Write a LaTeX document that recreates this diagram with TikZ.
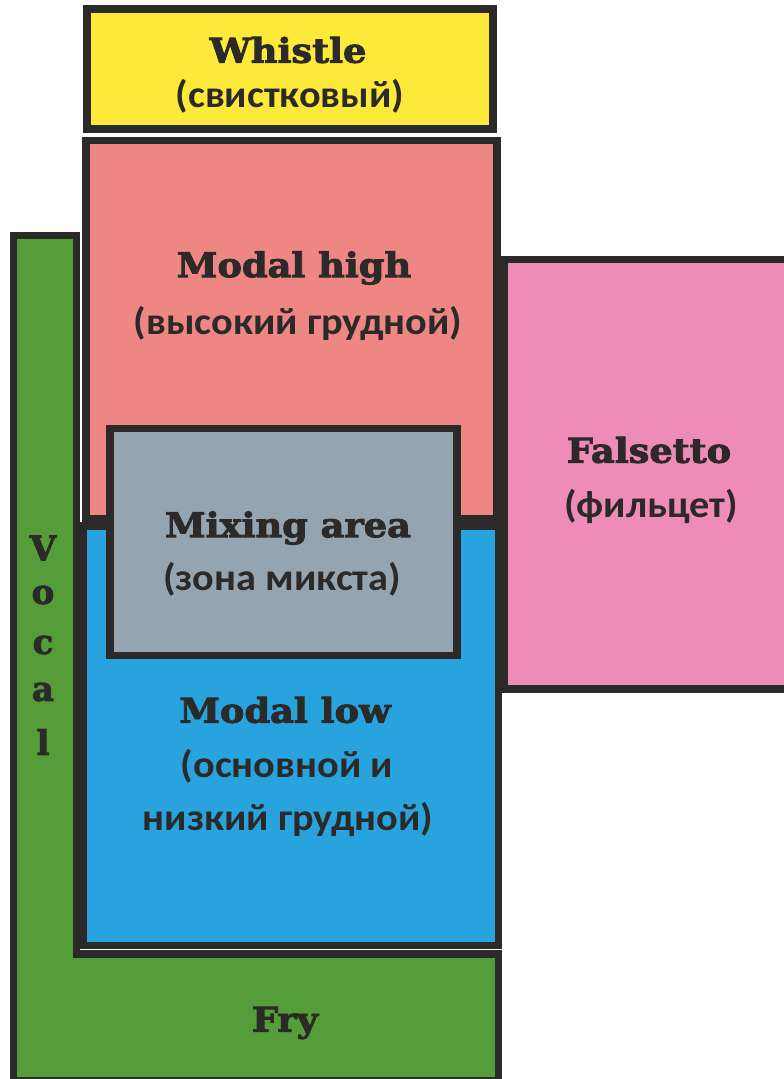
\documentclass[tikz,border=0pt]{standalone}
\usepackage{fontspec}
\newfontfamily\headfont{DejaVu Serif}[BoldFeatures={FakeBold=2.6}]
\newfontfamily\subfont{Carlito}
\definecolor{edge}{HTML}{2B2A29}
\definecolor{whistlecol}{HTML}{FCE93A}
\definecolor{highcol}{HTML}{EE8683}
\definecolor{mixcol}{HTML}{94A5B1}
\definecolor{lowcol}{HTML}{28A3DD}
\definecolor{falsecol}{HTML}{EE8BB6}
\definecolor{frycol}{HTML}{549D38}
\tikzset{
  zone/.style={draw=edge, line width=7.5pt, line join=miter},
  head/.style={font=\headfont\bfseries\fontsize{34}{38}\selectfont, text=edge, inner sep=0pt, xscale=1.08},
  sub/.style={font=\subfont\bfseries\fontsize{38}{42}\selectfont, text=edge, inner sep=0pt, xscale=1.06},
  letter/.style={font=\headfont\bfseries\fontsize{34}{38}\selectfont, text=edge, inner sep=0pt},
}
\begin{document}
\begin{tikzpicture}[x=1pt, y=-1pt]
  \useasboundingbox (0,0) rectangle (784,1079);
  % vocal / fry L-shaped band
  \path[zone, fill=frycol] (13.5,235.5) -- (76.5,235.5) -- (76.5,954) -- (498.5,954)
        -- (498.5,1081) -- (13.5,1081) -- cycle;
  % falsetto block running off the right edge
  \path[zone, fill=falsecol] (504,259.5) rectangle (800,689);
  % stacked chest-voice blocks
  \path[zone, fill=whistlecol] (87,9) rectangle (493,129);
  \path[zone, fill=highcol] (86,140.5) rectangle (497,519);
  \path[zone, fill=lowcol] (83,526) rectangle (498.5,945.5);
  \path[zone, fill=mixcol] (110,428.5) rectangle (457,655.5);

  % labels
  \node[head] (whistle) at (288,50) {Whistle};
  \node[sub]  (whistleru) at (290,96) {(свистковый)};
  \node[head] (high) at (294,268) {Modal high};
  \node[sub]  (highru) at (298,323) {(высокий грудной)};
  \node[head] (mix) at (288,528) {Mixing area};
  \node[sub]  (mixru) at (282,579) {(зона микста)};
  \node[head] (low) at (285,710) {Modal low};
  \node[sub]  (lowru1) at (287,766) {(основной и};
  \node[sub]  (lowru2) at (288,819) {низкий грудной)};
  \node[head] (fals) at (649,450) {Falsetto};
  \node[sub]  (falsru) at (651,506) {(фильцет)};
  \node[head] (fry) at (285,1023) {Fry};
  \node[letter] (v1) at (43,548) {V};
  \node[letter] (v2) at (43,595) {o};
  \node[letter] (v3) at (43,645) {c};
  \node[letter] (v4) at (43,692) {a};
  \node[letter] (v5) at (43,742) {l};
\end{tikzpicture}
\end{document}
